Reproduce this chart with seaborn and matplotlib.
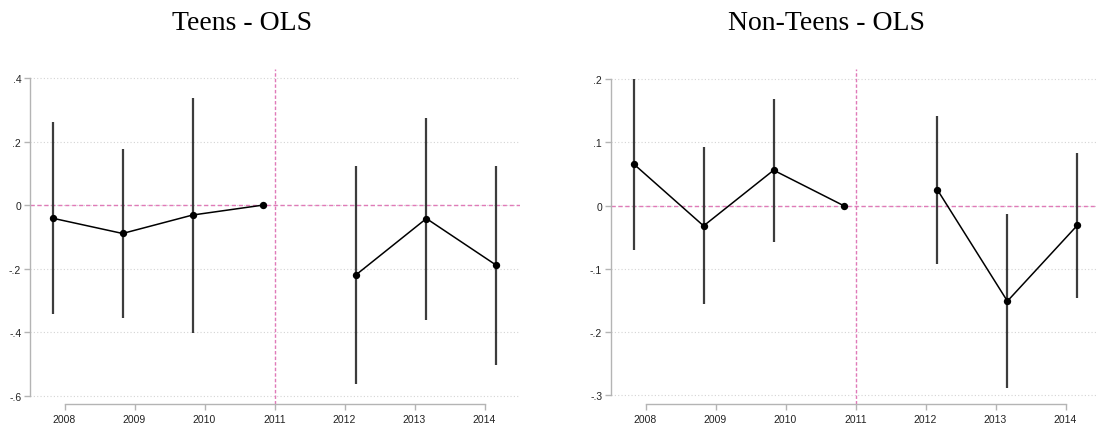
import numpy as np
import pandas as pd
import matplotlib
matplotlib.use("Agg")
import matplotlib.pyplot as plt
from matplotlib.ticker import FuncFormatter
import seaborn as sns

# Event-study coefficients and 95% confidence bounds by year
years = [2008, 2009, 2010, 2011, 2012, 2013, 2014]
period = ["pre", "pre", "pre", "pre", "post", "post", "post"]

teens_coef = [-0.041, -0.089, -0.031, 0.0, -0.218, -0.042, -0.189]
teens_lo = [-0.343, -0.355, -0.401, 0.0, -0.561, -0.360, -0.502]
teens_hi = [0.262, 0.176, 0.338, 0.0, 0.124, 0.275, 0.123]

nonteens_coef = [0.066, -0.032, 0.056, 0.0, 0.025, -0.151, -0.031]
nonteens_lo = [-0.070, -0.156, -0.058, 0.0, -0.093, -0.288, -0.146]
nonteens_hi = [0.200, 0.092, 0.169, 0.0, 0.142, -0.014, 0.083]

teens_yticks = [-0.6, -0.4, -0.2, 0.0, 0.2, 0.4]
nonteens_yticks = [-0.3, -0.2, -0.1, 0.0, 0.1, 0.2]

titles = ["Teens - OLS", "Non-Teens - OLS"]
event_year = 2011

sns.set_theme(style="white")
plt.rcParams["font.family"] = ["Liberation Sans", "DejaVu Sans"]

PINK = "#e07ab8"
GRID = "#d4d4d4"
AXIS = "#b4b4b4"
BAR = "#3c3c3c"


def stata_fmt(v, _pos):
    if abs(v) < 1e-9:
        return "0"
    s = f"{v:.1f}"
    return s.replace("0.", ".")


def panel(ax, coef, lo, hi, yticks, ylim):
    df = pd.DataFrame({"year": years, "coef": coef, "lo": lo, "hi": hi, "period": period})
    # pre-period estimates sit just left of the year, post-period just right
    shift = np.where(df["period"] == "pre", -0.17, 0.17)
    df["xpos"] = df["year"] + shift

    for y in yticks:
        ax.axhline(y, color=GRID, lw=0.8, ls=(0, (1, 2)), zorder=0)
    ax.axhline(0, color=PINK, lw=1.0, ls=(0, (3, 2)), zorder=1, snap=True)
    ax.axvline(event_year, color=PINK, lw=1.0, ls=(0, (2.5, 1.5)), zorder=1,
               snap=True)

    ax.vlines(df["xpos"], df["lo"], df["hi"], color=BAR, lw=1.6, zorder=2)
    sns.lineplot(data=df, x="xpos", y="coef", units="period", estimator=None,
                 sort=False, color="black", lw=1.1, ax=ax, zorder=3)
    sns.scatterplot(data=df, x="xpos", y="coef", color="black", s=28,
                    edgecolor="black", linewidth=0, ax=ax, zorder=4)

    ax.set_xlim(2007.5, 2014.5)
    ax.set_ylim(*ylim)
    ax.set_xticks(years)
    ax.set_yticks(yticks)
    ax.yaxis.set_major_formatter(FuncFormatter(stata_fmt))
    ax.set_xlabel("")
    ax.set_ylabel("")
    for side in ["top", "right"]:
        ax.spines[side].set_visible(False)
    for side in ["left", "bottom"]:
        ax.spines[side].set_color(AXIS)
        ax.spines[side].set_linewidth(1.0)
    ax.spines["left"].set_bounds(yticks[0], yticks[-1])
    ax.spines["bottom"].set_bounds(years[0], years[-1])
    ax.tick_params(axis="both", which="major", direction="out", length=4,
                   width=1.0, color=AXIS, labelsize=7.5, labelcolor="#222222",
                   pad=3, bottom=True, left=True, top=False, right=False)
    ax.tick_params(axis="y", pad=2)
    ax.grid(False)


fig = plt.figure(figsize=(10.97, 4.31), dpi=100)
ax1 = fig.add_axes([29.5 / 1097, 26 / 431, 490 / 1097, 335 / 431])
ax2 = fig.add_axes([610.5 / 1097, 26 / 431, 490 / 1097, 335 / 431])

panel(ax1, teens_coef, teens_lo, teens_hi, teens_yticks, (-0.625, 0.428))
panel(ax2, nonteens_coef, nonteens_lo, nonteens_hi, nonteens_yticks, (-0.3136, 0.216))

fig.text(242 / 1097, 1 - 30 / 431, titles[0], ha="center", va="baseline",
         fontsize=20, family=["Liberation Serif", "DejaVu Serif"], color="black")
fig.text(826 / 1097, 1 - 30 / 431, titles[1], ha="center", va="baseline",
         fontsize=20, family=["Liberation Serif", "DejaVu Serif"], color="black")

fig.savefig("out.png", dpi=100, facecolor="white")
